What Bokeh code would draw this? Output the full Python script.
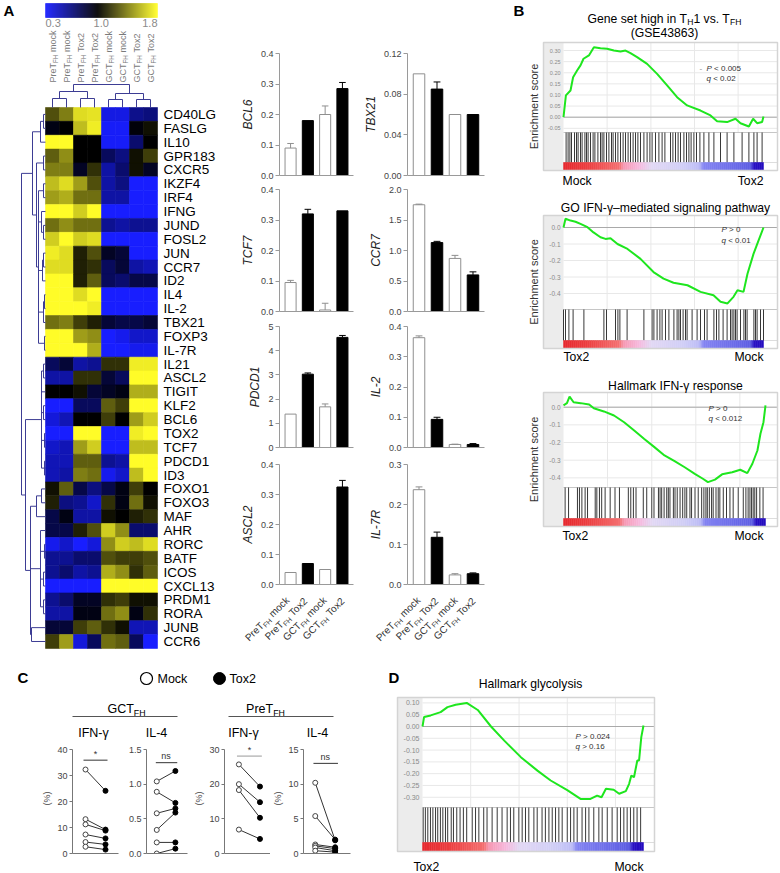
import numpy as np
from bokeh.plotting import figure
from bokeh.models import (Range1d, Label, LinearColorMapper, FixedTicker, Spacer,
                          ColumnDataSource, NumeralTickFormatter)
from bokeh.layouts import row, column
from bokeh.core.properties import value
from bokeh.embed import file_html
from bokeh.resources import INLINE

FONT = "Liberation Sans"

# ======================= DATA =======================
# ---- Panel A heatmap ----
genes = ["CD40LG", "FASLG", "IL10", "GPR183", "CXCR5", "IKZF4", "IRF4", "IFNG", "JUND",
         "FOSL2", "JUN", "CCR7", "ID2", "IL4", "IL-2", "TBX21", "FOXP3", "IL-7R", "IL21",
         "ASCL2", "TIGIT", "KLF2", "BCL6", "TOX2", "TCF7", "PDCD1", "ID3", "FOXO1", "FOXO3",
         "MAF", "AHR", "RORC", "BATF", "ICOS", "CXCL13", "PRDM1", "RORA", "JUNB", "CCR6"]
hm_col_cell = ["PreT", "PreT", "PreT", "PreT", "GCT", "GCT", "GCT", "GCT"]
hm_col_cond = ["mock", "mock", "Tox2", "Tox2", "mock", "mock", "Tox2", "Tox2"]
hm_values = [
    [1.25, 1.40, 1.70, 1.72, 0.38, 0.38, 0.62, 0.66],  # CD40LG
    [0.95, 1.00, 1.60, 1.75, 0.32, 0.32, 0.97, 1.05],  # FASLG
    [1.80, 1.80, 1.00, 1.00, 0.32, 0.32, 0.70, 1.00],  # IL10
    [1.30, 1.45, 1.00, 1.00, 0.75, 0.65, 1.05, 1.20],  # GPR183
    [1.40, 1.40, 0.90, 1.15, 0.55, 0.70, 1.05, 0.90],  # CXCR5
    [1.60, 1.70, 1.50, 1.25, 0.55, 0.65, 0.30, 0.30],  # IKZF4
    [1.50, 1.55, 1.35, 1.35, 0.55, 0.55, 0.30, 0.30],  # IRF4
    [1.80, 1.80, 1.65, 1.80, 0.30, 0.30, 0.30, 0.30],  # IFNG
    [1.35, 1.45, 1.35, 1.35, 0.60, 0.55, 0.60, 0.60],  # JUND
    [1.65, 1.80, 1.65, 1.70, 0.30, 0.30, 0.30, 0.30],  # FOSL2
    [1.75, 1.70, 1.10, 1.25, 0.90, 0.85, 0.30, 0.30],  # JUN
    [1.70, 1.70, 1.10, 1.15, 0.75, 0.85, 0.55, 0.50],  # CCR7
    [1.80, 1.80, 1.10, 1.30, 0.75, 0.70, 0.80, 0.80],  # ID2
    [1.80, 1.80, 1.70, 1.80, 0.30, 0.30, 0.30, 0.30],  # IL4
    [1.80, 1.80, 1.80, 1.75, 0.30, 0.30, 0.30, 0.30],  # IL-2
    [1.35, 1.40, 1.20, 1.10, 0.85, 0.80, 0.80, 0.85],  # TBX21
    [1.80, 1.80, 1.50, 1.45, 0.30, 0.35, 0.45, 0.45],  # FOXP3
    [1.80, 1.80, 1.80, 1.55, 0.30, 0.30, 0.35, 0.35],  # IL-7R
    [0.75, 0.85, 0.55, 0.60, 1.15, 1.15, 1.75, 1.75],  # IL21
    [0.55, 0.55, 1.15, 1.15, 0.85, 0.75, 1.80, 1.80],  # ASCL2
    [1.00, 1.00, 1.05, 0.85, 0.90, 0.95, 1.55, 1.55],  # TIGIT
    [0.30, 0.30, 0.75, 0.75, 1.30, 1.20, 1.80, 1.80],  # KLF2
    [0.40, 0.50, 1.00, 1.00, 1.20, 1.00, 1.50, 1.65],  # BCL6
    [0.30, 0.30, 1.80, 1.80, 0.30, 0.30, 1.75, 1.80],  # TOX2
    [0.45, 0.50, 1.50, 1.65, 0.30, 0.30, 1.60, 1.60],  # TCF7
    [0.50, 0.50, 1.30, 1.30, 0.60, 0.55, 1.80, 1.80],  # PDCD1
    [0.50, 0.55, 1.40, 1.35, 0.35, 0.45, 1.60, 1.80],  # ID3
    [1.05, 1.30, 0.80, 0.65, 0.80, 0.95, 1.20, 1.00],  # FOXO1
    [1.10, 0.65, 0.60, 0.45, 1.15, 0.95, 1.35, 1.05],  # FOXO3
    [0.80, 0.95, 0.55, 0.55, 1.05, 1.00, 1.10, 1.15],  # MAF
    [0.80, 0.80, 1.10, 1.25, 1.65, 1.45, 0.70, 0.70],  # AHR
    [0.35, 0.45, 0.30, 0.40, 1.45, 1.65, 1.60, 1.70],  # RORC
    [0.60, 0.60, 0.70, 0.70, 1.25, 1.20, 1.20, 1.25],  # BATF
    [0.60, 0.70, 0.55, 0.60, 1.55, 1.45, 1.15, 1.30],  # ICOS
    [0.30, 0.30, 0.30, 0.30, 1.80, 1.80, 1.80, 1.80],  # CXCL13
    [0.60, 0.70, 0.90, 0.90, 1.15, 1.20, 1.05, 1.05],  # PRDM1
    [0.55, 0.55, 0.95, 0.95, 1.35, 1.45, 0.95, 1.15],  # RORA
    [0.85, 0.85, 1.20, 1.30, 1.15, 1.05, 0.50, 0.50],  # JUNB
    [1.20, 1.50, 0.40, 0.75, 1.35, 1.30, 0.75, 0.30],  # CCR6
]
cbar_ticks = [0.3, 1.0, 1.8]
cbar_labels = ["0.3", "1.0", "1.8"]

# ---- Panel A bar charts ----
bar_cell = ["PreT", "PreT", "GCT", "GCT"]
bar_cond = ["mock", "Tox2", "mock", "Tox2"]
bcl6 = [0.09, 0.18, 0.20, 0.285]
bcl6_err = [0.015, 0.0, 0.028, 0.02]
tcf7 = [0.095, 0.32, 0.005, 0.33]
tcf7_err = [0.007, 0.015, 0.022, 0.0]
pdcd1 = [1.38, 3.03, 1.68, 4.55]
pdcd1_err = [0.0, 0.05, 0.12, 0.08]
ascl2 = [0.04, 0.07, 0.05, 0.325]
ascl2_err = [0.0, 0.0, 0.0, 0.022]
tbx21 = [0.100, 0.085, 0.060, 0.060]
tbx21_err = [0.0, 0.007, 0.0, 0.0]
ccr7 = [1.75, 1.13, 0.87, 0.60]
ccr7_err = [0.01, 0.02, 0.05, 0.05]
il2 = [0.363, 0.093, 0.010, 0.010]
il2_err = [0.006, 0.007, 0.001, 0.003]
il7r = [0.237, 0.118, 0.024, 0.027]
il7r_err = [0.007, 0.013, 0.003, 0.002]
ticks_04 = [0, 0.1, 0.2, 0.3, 0.4]
ticks_5 = [0, 1, 2, 3, 4, 5]
ticks_012 = [0, 0.04, 0.08, 0.12]
ticks_2 = [0, 0.5, 1.0, 1.5, 2.0]
ticks_03 = [0, 0.1, 0.2, 0.3]

# ---- Panel B / D GSEA ----
b1_x = [0, 0.012, 0.035, 0.048, 0.068, 0.085, 0.10, 0.127, 0.152, 0.185, 0.218, 0.252, 0.285,
        0.31, 0.335, 0.368, 0.418, 0.468, 0.518, 0.568, 0.618, 0.685, 0.735, 0.768, 0.818,
        0.86, 0.885, 0.927, 0.948, 0.968, 0.993, 1.0]
b1_es = [0.0, 0.098, 0.12, 0.18, 0.21, 0.233, 0.263, 0.278, 0.315, 0.31, 0.308, 0.30, 0.296,
         0.30, 0.288, 0.27, 0.24, 0.195, 0.143, 0.09, 0.053, 0.03, 0.008, -0.018, -0.022,
         -0.007, -0.027, -0.042, -0.007, -0.027, -0.022, 0.003]
b1_hits = [0.013, 0.023, 0.032, 0.04, 0.055, 0.065, 0.073, 0.085, 0.093, 0.107, 0.115, 0.123,
           0.135, 0.148, 0.157, 0.172, 0.185, 0.193, 0.202, 0.215, 0.227, 0.24, 0.248, 0.26,
           0.272, 0.285, 0.298, 0.31, 0.323, 0.335, 0.348, 0.36, 0.372, 0.385, 0.402, 0.418,
           0.432, 0.443, 0.46, 0.477, 0.493, 0.507, 0.535, 0.547, 0.56, 0.573, 0.585, 0.602,
           0.615, 0.627, 0.638, 0.652, 0.665, 0.682, 0.702, 0.727, 0.752, 0.785, 0.818, 0.852,
           0.893, 0.927, 0.952, 0.968, 0.993]
b1_ticks = [0.30, 0.25, 0.20, 0.15, 0.10, 0.05, 0.00, -0.05]

b2_x = [0, 0.01, 0.035, 0.06, 0.085, 0.12, 0.15, 0.185, 0.21, 0.235, 0.27, 0.32, 0.385, 0.45,
        0.5, 0.55, 0.62, 0.685, 0.75, 0.785, 0.82, 0.85, 0.87, 0.9, 0.92, 0.95, 0.975, 1.0]
b2_es = [0, 0.053, 0.042, 0.035, 0.022, 0.002, -0.03, -0.059, -0.069, -0.065, -0.1, -0.13,
         -0.19, -0.27, -0.31, -0.335, -0.35, -0.39, -0.41, -0.45, -0.46, -0.42, -0.38, -0.39,
         -0.28, -0.16, -0.08, 0.0]
b2_hits = [0.0, 0.01, 0.027, 0.048, 0.102, 0.202, 0.215, 0.26, 0.272, 0.282, 0.318, 0.402,
           0.443, 0.452, 0.468, 0.482, 0.493, 0.51, 0.527, 0.552, 0.568, 0.577, 0.585, 0.598,
           0.61, 0.618, 0.643, 0.668, 0.685, 0.705, 0.718, 0.752, 0.765, 0.777, 0.798, 0.818,
           0.835, 0.843, 0.852, 0.86, 0.868, 0.885, 0.902, 0.91, 0.918, 0.952, 0.96, 0.968,
           0.985, 1.0]
b23_ticks = [0.0, -0.1, -0.2, -0.3, -0.4]

b3_x = [0, 0.017, 0.03, 0.05, 0.085, 0.127, 0.15, 0.2, 0.25, 0.3, 0.35, 0.4, 0.45, 0.5, 0.55,
        0.6, 0.65, 0.69, 0.715, 0.75, 0.785, 0.835, 0.875, 0.91, 0.935, 0.96, 0.975, 0.99, 1.0]
b3_es = [0.01, 0.023, 0.06, 0.028, 0.023, 0.015, -0.006, -0.024, -0.047, -0.085, -0.132, -0.18,
         -0.226, -0.273, -0.305, -0.34, -0.377, -0.405, -0.424, -0.41, -0.38, -0.368, -0.354,
         -0.373, -0.32, -0.245, -0.15, -0.085, 0.01]
b3_hits = [0.008, 0.025, 0.069, 0.079, 0.091, 0.107, 0.119, 0.157, 0.165, 0.178, 0.189, 0.206,
           0.231, 0.255, 0.277, 0.321, 0.333, 0.346, 0.359, 0.395, 0.412, 0.437, 0.448, 0.47,
           0.478, 0.486, 0.498, 0.511, 0.519, 0.527, 0.544, 0.552, 0.563, 0.577, 0.59, 0.601,
           0.61, 0.626, 0.634, 0.651, 0.667, 0.684, 0.695, 0.705, 0.712, 0.722, 0.733, 0.741,
           0.755, 0.766, 0.774, 0.791, 0.807, 0.824, 0.84, 0.865, 0.89, 0.903, 0.914, 0.923,
           0.931, 0.939, 0.947, 0.956, 0.972, 0.988]

d_x = [0, 0.007, 0.037, 0.082, 0.113, 0.15, 0.2, 0.25, 0.31, 0.37, 0.445, 0.52, 0.58, 0.655,
       0.715, 0.76, 0.79, 0.81, 0.83, 0.865, 0.89, 0.92, 0.935, 0.945, 0.957, 0.972, 0.98,
       0.99, 1.0]
d_es = [0, 0.04, 0.047, 0.061, 0.082, 0.092, 0.1, 0.07, 0.0, -0.06, -0.13, -0.187, -0.229,
        -0.27, -0.307, -0.307, -0.293, -0.30, -0.264, -0.268, -0.285, -0.274, -0.243, -0.208,
        -0.215, -0.144, -0.144, -0.045, 0.004]
d_hits = [0.003, 0.013, 0.024, 0.036, 0.047, 0.059, 0.069, 0.081, 0.092, 0.104, 0.114, 0.13,
          0.14, 0.155, 0.17, 0.185, 0.2, 0.225, 0.24, 0.255, 0.277, 0.292, 0.315, 0.338, 0.36,
          0.383, 0.398, 0.413, 0.436, 0.451, 0.466, 0.481, 0.504, 0.519, 0.541, 0.556, 0.572,
          0.587, 0.602, 0.617, 0.632, 0.655, 0.67, 0.685, 0.7, 0.722, 0.738, 0.753, 0.775,
          0.798, 0.813, 0.836, 0.858, 0.881, 0.896, 0.911, 0.926, 0.941, 0.956, 0.971, 0.987]
d_ticks = [0.10, 0.05, 0.00, -0.05, -0.10, -0.15, -0.20, -0.25, -0.30]

# ---- Panel C paired dots ----
gct_ifng_mock = [32.3, 13.2, 11.2, 7.3, 4.4, 2.6]
gct_ifng_tox2 = [24.1, 9.2, 8.8, 5.8, 3.5, 1.5]
gct_il4_mock = [1.04, 0.89, 0.58, 0.34, 0.16, 0.0]
gct_il4_tox2 = [1.19, 0.73, 0.65, 0.59, 0.16, 0.07]
pre_ifng_mock = [25.7, 20.0, 18.3, 6.9]
pre_ifng_tox2 = [19.3, 14.8, 10.3, 4.2]
pre_il4_mock = [10.2, 5.4, 1.3, 1.1, 0.86, 0.4]
pre_il4_tox2 = [1.9, 2.0, 0.9, 0.7, 0.4, 0.2]
sig_levels = [35.9, 1.31, 28.1, 13.0]
sig_text = ["*", "ns", "*", "ns"]

# ======================= HELPERS =======================
CW = {' ': 278, '(': 333, ')': 333, '%': 889, '-': 333, '.': 278, ',': 278, '<': 584,
      '>': 584, '*': 389, '\u2013': 556, '\u03b3': 500}
for _d in "0123456789":
    CW[_d] = 556
CW.update(dict(A=667, B=667, C=722, D=722, E=667, F=611, G=778, H=722, I=278, J=500, K=667,
               L=556, M=833, N=722, O=778, P=667, Q=778, R=722, S=667, T=611, U=722, V=667,
               W=944, X=667, Y=667, Z=611))
CW.update(dict(a=556, b=556, c=500, d=556, e=556, f=278, g=556, h=556, i=222, j=222, k=500,
               l=222, m=833, n=556, o=556, p=556, q=556, r=333, s=500, t=278, u=556, v=500,
               w=722, x=500, y=500, z=500))


def tw(s, size):
    return sum(CW.get(ch, 556) for ch in s) * size / 1000.0


class Fr:
    """maps picture pixels (X right, Y down) to data coordinates of one plot frame"""
    def __init__(self, fx0, fy0, fx1, fy1, x0, x1, ytop, ybot):
        self.fx0, self.fy0, self.fx1, self.fy1 = fx0, fy0, fx1, fy1
        self.x0, self.x1, self.ytop, self.ybot = x0, x1, ytop, ybot

    def d(self, X, Y):
        return (self.x0 + (X - self.fx0) / (self.fx1 - self.fx0) * (self.x1 - self.x0),
                self.ytop + (Y - self.fy0) / (self.fy1 - self.fy0) * (self.ybot - self.ytop))


def rich(p, fr, X, Y, pieces, size, angle=0.0, align="left", color="black"):
    a = np.radians(angle)
    items = []
    for t, kind in pieces:
        s = size * 0.7 if kind == "sub" else size
        items.append((t, kind, s, tw(t, s)))
    W = sum(i[3] for i in items)
    cum = {"left": 0.0, "center": -W / 2.0, "right": -W}[align]
    ux, uy = np.cos(a), -np.sin(a)
    vx, vy = np.sin(a), np.cos(a)
    for t, kind, s, w in items:
        lead = len(t) - len(t.lstrip(" "))
        core = t.strip(" ")
        off = cum + tw(" " * lead, s)
        shift = 0.32 * size if kind == "sub" else 0.0
        x, y = fr.d(X + ux * off + vx * shift, Y + uy * off + vy * shift)
        style = {"it": "italic", "b": "bold"}.get(kind, "normal")
        if core:
            p.add_layout(Label(x=x, y=y, text=core, angle=float(a), text_align="left",
                               text_baseline="middle", text_font=FONT,
                               text_font_size="%.1fpx" % s, text_font_style=style,
                               text_color=color))
        cum += w


def simple(p, fr, X, Y, txt, size, align="left", style="normal", color="black", angle=0.0):
    x, y = fr.d(X, Y)
    p.add_layout(Label(x=x, y=y, text=txt, text_align=align, text_baseline="middle",
                       angle=float(np.radians(angle)), text_font=FONT,
                       text_font_size="%.1fpx" % size, text_font_style=style,
                       text_color=color))


def base_fig(w, h, xr, yr, bl, br, bt, bb, xloc="below", yloc="left"):
    p = figure(width=w, height=h, x_range=Range1d(*xr), y_range=Range1d(*yr),
               output_backend="svg", toolbar_location=None, x_axis_location=xloc,
               y_axis_location=yloc, min_border_left=bl, min_border_right=br,
               min_border_top=bt, min_border_bottom=bb)
    p.outline_line_color = None
    p.grid.visible = False
    p.background_fill_color = "white"
    p.border_fill_color = "white"
    return p


# ======================= PANEL A: HEATMAP =======================
def hm_color(v):
    if v <= 1.0:
        t = (1.0 - v) / 0.7
        return "#%02x%02x%02x" % (int(24 * t), int(30 * t), int(255 * t))
    t = (v - 1.0) / 0.8
    return "#%02x%02x%02x" % (int(255 * t), int(252 * t), int(40 * t))


palette = [hm_color(v) for v in np.linspace(0.3, 1.8, 256)]
mapper = LinearColorMapper(palette=palette, low=0.3, high=1.8)

hm_fr = Fr(0, 0, 237, 660, (0 - 45) / 14.0, (237 - 45) / 14.0, (0 - 107) / 13.87,
           (660 - 107) / 13.87)
hm = base_fig(237, 660, (hm_fr.x0, hm_fr.x1), (hm_fr.ybot, hm_fr.ytop), 0, 0, 0, 0,
              xloc=None, yloc=None)

cx, cy, cv = [], [], []
for r, vals in enumerate(hm_values):
    for c, v in enumerate(vals):
        cx.append(c + 0.5)
        cy.append(r + 0.5)
        cv.append(v)
hm.rect(x="x", y="y", width=1, height=1, source=ColumnDataSource(dict(x=cx, y=cy, v=cv)),
        fill_color={"field": "v", "transform": mapper},
        line_color={"field": "v", "transform": mapper}, line_width=0.6)

# color key
cb_vals = np.linspace(0.3, 1.8, 112)
cb_cols = [hm_color(v) for v in cb_vals]
cb_y0, cb_y1 = hm_fr.d(0, 3)[1], hm_fr.d(0, 17)[1]
hm.quad(left=[i * 8 / 112.0 for i in range(112)], right=[(i + 1) * 8 / 112.0 for i in range(112)],
        bottom=[cb_y1] * 112, top=[cb_y0] * 112, fill_color=cb_cols, line_color=cb_cols,
        line_width=0.5)
lab_y = hm_fr.d(0, 22.5)[1]
hm.text(x=[0, (1.0 - 0.3) / 1.5 * 8 + 0.25, 8], y=[lab_y] * 3, text=cbar_labels,
        text_align=["left", "center", "right"], text_baseline="middle",
        text_font=value(FONT), text_font_size="11px", text_color="#8a8a8a")

# column labels
for i in range(8):
    rich(hm, hm_fr, 45 + 14 * (i + 0.5), 82,
         [(hm_col_cell[i], "n"), ("FH", "sub"), (" " + hm_col_cond[i], "n")],
         9.0, angle=90, align="left", color="#7a7a7a")

# dendrograms
col_tree = (84, [(91, [(98, [0, 1]), (98, [2, 3])]), (93, [(99, [4, 5]), (99, [6, 7])])])
row_tree = (21, [
    (32, [
        (40, [(43, [0, 1]), 2]),
        (36, [(43, [3, 4]),
              (38, [(43, [5, 6]), (41, [7, (43, [8, 9])]), (42, [(43, [10, 11]), 12]),
                    (43, [(44, [13, 14]), 15]), (44, [16, 17])])]),
    ]),
    (25, [
        (41, [(43, [18, 19]), 20, (43, [21, 22]), (44, [23, 24]), (44, [25, 26])]),
        (30, [
            (36, [(41, [27, 28]), 29]),
            (40, [30, (44, [31, 32]), (43, [33, 34]), (43, [35, 36])]),
            (31, [37, 38]),
        ]),
    ]),
])
seg = {"x0": [], "y0": [], "x1": [], "y1": []}


def add_seg(a, b, c, d):
    seg["x0"].append(a); seg["y0"].append(b); seg["x1"].append(c); seg["y1"].append(d)


def lay_row(node):
    if isinstance(node, int):
        return 0.0, node + 0.5
    xp, kids = node
    xd = (xp - 45) / 14.0
    pts = [lay_row(k) for k in kids]
    ys = [q[1] for q in pts]
    add_seg(xd, min(ys), xd, max(ys))
    for kx, ky in pts:
        add_seg(xd, ky, kx, ky)
    return xd, (min(ys) + max(ys)) / 2.0


def lay_col(node):
    if isinstance(node, int):
        return node + 0.5, 0.0
    yp, kids = node
    yd = (yp - 107) / 13.87
    pts = [lay_col(k) for k in kids]
    xs = [q[0] for q in pts]
    add_seg(min(xs), yd, max(xs), yd)
    for kx, ky in pts:
        add_seg(kx, yd, kx, ky)
    return (min(xs) + max(xs)) / 2.0, yd


lay_row(row_tree)
lay_col(col_tree)
hm.segment(x0="x0", y0="y0", x1="x1", y1="y1", source=ColumnDataSource(seg),
           line_color="#3d3d94", line_width=1)

hm.text(x=[(163 - 45) / 14.0] * len(genes), y=[i + 0.5 for i in range(len(genes))], text=genes,
        text_align="left", text_baseline="middle", text_font=value(FONT),
        text_font_size="13.5px", text_color="black")
simple(hm, hm_fr, 3, 10, "A", 15, style="bold")


# ======================= PANEL A: BAR CHARTS =======================
def bar_fig(w, h, bl, br, bt, bb, vals, errs, ymax, ticks, fmt, gene):
    p = base_fig(w, h, (0.36, 4.64), (0, ymax), bl, br, bt, bb)
    xs = [1, 2, 3, 4]
    fills = ["white", "black", "white", "black"]
    lines = ["#8f8f8f", "black", "#8f8f8f", "black"]
    p.vbar(x=xs, top=vals, bottom=0, width=0.64, fill_color=fills, line_color=lines,
           line_width=1)
    ex, e0, e1, ec = [], [], [], []
    for x, v, e, c in zip(xs, vals, errs, lines):
        if e > 0:
            ex.append(x); e0.append(v); e1.append(v + e); ec.append(c)
    p.segment(x0=ex, y0=e0, x1=ex, y1=e1, line_color=ec, line_width=1)
    p.segment(x0=[x - 0.19 for x in ex], y0=e1, x1=[x + 0.19 for x in ex], y1=e1,
              line_color=ec, line_width=1)
    p.xaxis.ticker = FixedTicker(ticks=[])
    p.xaxis.major_label_text_font_size = "0px"
    p.xaxis.major_label_standoff = 0
    p.xaxis.major_tick_out = 0
    p.xaxis.axis_line_color = "#9a9a9a"
    p.yaxis.ticker = FixedTicker(ticks=ticks)
    p.yaxis.formatter = NumeralTickFormatter(format=fmt)
    p.yaxis.major_label_text_font_size = "9px"
    p.yaxis.major_label_text_font = FONT
    p.yaxis.major_label_text_color = "#444444"
    p.yaxis.major_tick_out = 4
    p.yaxis.major_tick_in = 0
    p.yaxis.minor_tick_line_color = None
    p.yaxis.major_tick_line_color = "#9a9a9a"
    p.yaxis.axis_line_color = "#9a9a9a"
    p.yaxis.major_label_standoff = 2
    p.yaxis.axis_label = gene
    p.yaxis.axis_label_text_font = FONT
    p.yaxis.axis_label_text_font_style = "italic"
    p.yaxis.axis_label_text_font_size = "12px"
    p.yaxis.axis_label_text_color = "#222222"
    p.yaxis.axis_label_standoff = 3
    return p


L1 = bar_fig(123, 182, 36, 7, 53, 7, bcl6, bcl6_err, 0.4, ticks_04, "0.0", "BCL6")
L2 = bar_fig(123, 136, 36, 7, 7, 7, tcf7, tcf7_err, 0.4, ticks_04, "0.0", "TCF7")
L3 = bar_fig(123, 137, 36, 7, 8, 8, pdcd1, pdcd1_err, 5, ticks_5, "0", "PDCD1")
L4 = bar_fig(123, 136, 36, 7, 9, 7, ascl2, ascl2_err, 0.4, ticks_04, "0.0", "ASCL2")
R1 = bar_fig(130, 182, 44, 6, 53, 7, tbx21, tbx21_err, 0.12, ticks_012, "0.00", "TBX21")
R2 = bar_fig(130, 136, 44, 6, 7, 7, ccr7, ccr7_err, 2.0, ticks_2, "0.0", "CCR7")
R3 = bar_fig(130, 137, 44, 6, 8, 8, il2, il2_err, 0.4, ticks_04, "0.0", "IL-2")
R4 = bar_fig(130, 136, 44, 6, 9, 7, il7r, il7r_err, 0.3, ticks_03, "0.0", "IL-7R")

# group labels under the bottom bar charts (data coordinates = picture pixels)
BL = base_fig(253, 69, (237, 490), (660, 591), 0, 0, 0, 0, xloc=None, yloc=None)
bl_fr = Fr(237, 591, 490, 660, 237, 490, 591, 660)
for fx0 in (273, 404):
    for i in range(4):
        Xc = fx0 + (i + 1 - 0.36) / 4.28 * 80 + 2
        rich(BL, bl_fr, Xc, 598, [(bar_cell[i], "n"), ("FH", "sub"), (" " + bar_cond[i], "n")],
             10, angle=45, align="right", color="#333333")

# ======================= GSEA PANELS =======================
RB_STOPS = [(0.0, (230, 40, 46)), (0.12, (236, 62, 64)), (0.28, (244, 112, 112)),
            (0.30, (246, 152, 178)), (0.38, (246, 186, 222)), (0.44, (226, 216, 244)),
            (0.60, (208, 206, 246)), (0.68, (188, 188, 246)), (0.70, (132, 132, 242)),
            (0.86, (106, 106, 232)), (0.94, (92, 92, 226)), (0.95, (40, 16, 196)),
            (1.0, (36, 12, 190))]
VGRID = [0.218, 0.437, 0.655, 0.873]


def grad(f):
    for (f0, c0), (f1, c1) in zip(RB_STOPS[:-1], RB_STOPS[1:]):
        if f0 <= f <= f1:
            t = 0.0 if f1 == f0 else (f - f0) / (f1 - f0)
            return "#%02x%02x%02x" % tuple(int(round(a + (b - a) * t)) for a, b in zip(c0, c1))
    return "#240cbe"


def gsea_fig(win, r0, r1, zeroY, esp, box, enrY, hitsY, xs, es, hits, ticks, tfmt, tfont,
             ylabel):
    wx0, wy0, wx1, wy1 = win
    fr = Fr(wx0, wy0, wx1, wy1, (wx0 - r0) / float(r1 - r0), (wx1 - r0) / float(r1 - r0),
            (zeroY - wy0) * esp, (zeroY - wy1) * esp)
    p = base_fig(wx1 - wx0, wy1 - wy0, (fr.x0, fr.x1), (fr.ybot, fr.ytop), 0, 0, 0, 0,
                 xloc=None, yloc=None)
    bx0, by0 = fr.d(box[0], box[1])
    bx1, by1 = fr.d(box[2], box[3])
    enr = fr.d(0, enrY)[1]
    hb = fr.d(0, hitsY)[1]
    p.quad(left=[bx0], right=[0], bottom=[by1], top=[by0], fill_color="#ececec",
           line_color=None)
    n = len(ticks)
    p.segment(x0=[0] * n, y0=ticks, x1=[bx1] * n, y1=ticks, line_color="#e8e8e8",
              line_width=1)
    p.segment(x0=VGRID, y0=[enr] * 4, x1=VGRID, y1=[by0] * 4, line_color="#e8e8e8",
              line_width=1)
    p.segment(x0=[0], y0=[0], x1=[bx1], y1=[0], line_color="#a9a9a9", line_width=1)
    p.segment(x0=[0], y0=[enr], x1=[bx1], y1=[enr], line_color="#c6c6c6", line_width=1)
    p.segment(x0=[0], y0=[hb], x1=[bx1], y1=[hb], line_color="#dddddd", line_width=1)
    m = len(hits)
    p.segment(x0=hits, y0=[enr] * m, x1=hits, y1=[hb] * m, line_color="#151515",
              line_alpha=0.85, line_width=1)
    N = 100
    cols = [grad((i + 0.5) / N) for i in range(N)]
    p.quad(left=[i / float(N) for i in range(N)], right=[(i + 1) / float(N) for i in range(N)],
           bottom=[by1] * N, top=[hb] * N, fill_color=cols, line_color=cols, line_width=0.5)
    p.quad(left=[bx0], right=[bx1], bottom=[by1], top=[by0], fill_color=None,
           line_color="#d4d4d4", line_width=1.5)
    p.line(xs, es, line_color="#1ee61e", line_width=2)
    tx = fr.d(r0 - 3, 0)[0]
    p.text(x=[tx] * n, y=ticks, text=[tfmt % t for t in ticks], text_align="right",
           text_baseline="middle", text_font=value(FONT), text_font_size=tfont,
           text_color="#8a8a8a")
    if ylabel:
        simple(p, fr, 533, (box[1] + box[3]) / 2.0, "Enrichment score", 11, align="center",
               color="#333333", angle=90)
    return p, fr


def pq(p, fr, X, Y, rest, size=8):
    rich(p, fr, X, Y, [(rest[0], "it"), (rest[1], "n")], size, color="#333333")


# B1
G1, fr1 = gsea_fig((490, 0, 780, 192), 563, 763, 116.7, 0.0045, (543, 42, 777, 170), 132, 162,
                   b1_x, b1_es, b1_hits, b1_ticks, "%.2f", "5.5px", True)
simple(G1, fr1, 513, 10, "B", 15, style="bold")
rich(G1, fr1, 664, 18, [("Gene set high in T", "n"), ("H", "sub"), ("1 vs. T", "n"),
                        ("FH", "sub")], 12.2, align="center")
simple(G1, fr1, 664, 32, "(GSE43863)", 12.2, align="center")
simple(G1, fr1, 699, 68, "-", 8, color="#888888")
pq(G1, fr1, 706, 68, ("P", " < 0.005"))
pq(G1, fr1, 706, 78, ("q", " < 0.02"))
simple(G1, fr1, 562, 180, "Mock", 12.2)
simple(G1, fr1, 763, 180, "Tox2", 12.2, align="right")

# B2
G2, fr2 = gsea_fig((490, 192, 780, 370), 563, 763, 227, 0.00606, (543, 215, 777, 348), 309,
                   340, b2_x, b2_es, b2_hits, b23_ticks, "%.1f", "6.5px", True)
simple(G2, fr2, 665, 207, "GO IFN-\u03b3\u2013mediated signaling pathway", 12.2,
       align="center")
pq(G2, fr2, 721, 229, ("P", " > 0"))
pq(G2, fr2, 721, 240, ("q", " < 0.01"))
simple(G2, fr2, 563, 356, "Tox2", 12.2)
simple(G2, fr2, 763, 356, "Mock", 12.2, align="right")

# B3
G3, fr3 = gsea_fig((490, 370, 780, 548), 563, 765, 406.7, 0.00566, (543, 392, 777, 526), 487,
                   518, b3_x, b3_es, b3_hits, b23_ticks, "%.1f", "6.5px", True)
simple(G3, fr3, 675, 385, "Hallmark IFN-\u03b3 response", 12.2, align="center")
pq(G3, fr3, 708, 408, ("P", " > 0"))
pq(G3, fr3, 708, 418, ("q", " < 0.012"))
simple(G3, fr3, 562, 535, "Tox2", 12.2)
simple(G3, fr3, 763, 535, "Mock", 12.2, align="right")

# D
DG, frd = gsea_fig((380, 660, 780, 873), 422, 643, 726, 0.00424, (397, 697, 654, 851), 807, 842,
                   d_x, d_es, d_hits, d_ticks, "%.2f", "7px", False)
simple(DG, frd, 388, 677, "D", 15, style="bold")
simple(DG, frd, 530, 683, "Hallmark glycolysis", 12.2, align="center")
pq(DG, frd, 575, 736, ("P", " > 0.024"))
pq(DG, frd, 575, 746, ("q", " > 0.16"))
simple(DG, frd, 413, 866, "Tox2", 12.2)
simple(DG, frd, 643, 866, "Mock", 12.2, align="right")


# ======================= PANEL C =======================
def c_fig(w, bl, br, xr, ymax, ticks, fmt, mock, tox, sig_y, sig_t, sig_x, ylabel, sig_col):
    p = base_fig(w, 130, xr, (0, ymax * 110.0 / 104.0), bl, br, 0, 20)
    p.xaxis.ticker = FixedTicker(ticks=[])
    p.xaxis.major_label_text_font_size = "0px"
    p.xaxis.major_label_standoff = 0
    p.xaxis.major_tick_out = 0
    p.xaxis.axis_line_color = "#777777"
    p.yaxis.ticker = FixedTicker(ticks=ticks)
    p.yaxis.bounds = (0, ymax)
    p.yaxis.formatter = NumeralTickFormatter(format=fmt)
    p.yaxis.major_label_text_font_size = "9px"
    p.yaxis.major_label_text_font = FONT
    p.yaxis.major_label_text_color = "#444444"
    p.yaxis.major_tick_out = 3
    p.yaxis.major_tick_in = 0
    p.yaxis.minor_tick_line_color = None
    p.yaxis.major_tick_line_color = "#777777"
    p.yaxis.axis_line_color = "#777777"
    p.yaxis.major_label_standoff = 2
    if ylabel:
        p.yaxis.axis_label = "(%)"
        p.yaxis.axis_label_text_font = FONT
        p.yaxis.axis_label_text_font_style = "normal"
        p.yaxis.axis_label_text_font_size = "9px"
        p.yaxis.axis_label_text_color = "#444444"
        p.yaxis.axis_label_standoff = 2
    n = len(mock)
    p.segment(x0=[0] * n, y0=mock, x1=[1] * n, y1=tox, line_color="#333333", line_width=1)
    p.scatter([0] * n, mock, size=5, marker="circle", fill_color="white",
              line_color="#444444", line_width=1)
    p.scatter([1] * n, tox, size=5, marker="circle", fill_color="black", line_color="black")
    p.segment(x0=[sig_x[0]], y0=[sig_y], x1=[sig_x[1]], y1=[sig_y], line_color=sig_col,
              line_width=1)
    p.text(x=[0.5], y=[sig_y + 1.5 * ymax / 104.0], text=[sig_t], text_align="center",
           text_baseline="bottom", text_font=value(FONT), text_font_size="9px",
           text_color="#333333")
    return p


C1 = c_fig(125, 72, 7, (-0.65, 1.65), 40, [0, 10, 20, 30, 40], "0", gct_ifng_mock,
           gct_ifng_tox2, sig_levels[0], sig_text[0], (-0.1, 1.1), True, "#333333")
C2 = c_fig(66, 18, 4, (-0.55, 1.65), 1.5, [0, 0.5, 1.0, 1.5], "0.0", gct_il4_mock,
           gct_il4_tox2, sig_levels[1], sig_text[1], (-0.05, 1.1), False, "#333333")
C3 = c_fig(79, 31, 0, (-0.682, 1.5), 30, [0, 10, 20, 30], "0", pre_ifng_mock,
           pre_ifng_tox2, sig_levels[2], sig_text[2], (-0.09, 1.09), True, "#999999")
C4 = c_fig(110, 28, 30, (-0.59, 1.77), 15, [0, 5, 10, 15], "0", pre_il4_mock,
           pre_il4_tox2, sig_levels[3], sig_text[3], (-0.09, 1.14), True, "#333333")

# header of panel C (data coordinates = picture pixels)
CH = base_fig(380, 83, (0, 380), (743, 660), 0, 0, 0, 0, xloc=None, yloc=None)
ch_fr = Fr(0, 660, 380, 743, 0, 380, 660, 743)
simple(CH, ch_fr, 17, 677, "C", 15, style="bold")
CH.scatter([146], [678], size=12, marker="circle", fill_color="white", line_color="black",
           line_width=1.2)
CH.scatter([219], [678], size=12, marker="circle", fill_color="black", line_color="black")
CH.text(x=[157, 229], y=[678, 678], text=["Mock", "Tox2"], text_baseline="middle",
        text_font=value(FONT), text_font_size="12.5px", text_color="black")
rich(CH, ch_fr, 126, 708, [("GCT", "n"), ("FH", "sub")], 12.5, align="center")
rich(CH, ch_fr, 265, 708, [("PreT", "n"), ("FH", "sub")], 12.5, align="center")
CH.segment(x0=[72, 228], y0=[716, 716], x1=[177, 333], y1=[716, 716], line_color="#555555",
           line_width=1)
CH.text(x=[93, 156, 243, 317], y=[732] * 4, text=["IFN-\u03b3", "IL-4", "IFN-\u03b3", "IL-4"],
        text_align="center", text_baseline="middle", text_font=value(FONT),
        text_font_size="12.5px", text_color="black")

# ======================= LAYOUT =======================
bars = column(row(column(L1, L2, L3, L4), column(R1, R2, R3, R4)), BL)
top = row(hm, bars, column(G1, G2, G3, Spacer(width=290, height=112)))
bottom = row(column(CH, row(C1, C2, C3, C4)), DG)
root = column(top, bottom)

open("out.html", "w").write(file_html(root, INLINE, title="Tox2 figure"))
